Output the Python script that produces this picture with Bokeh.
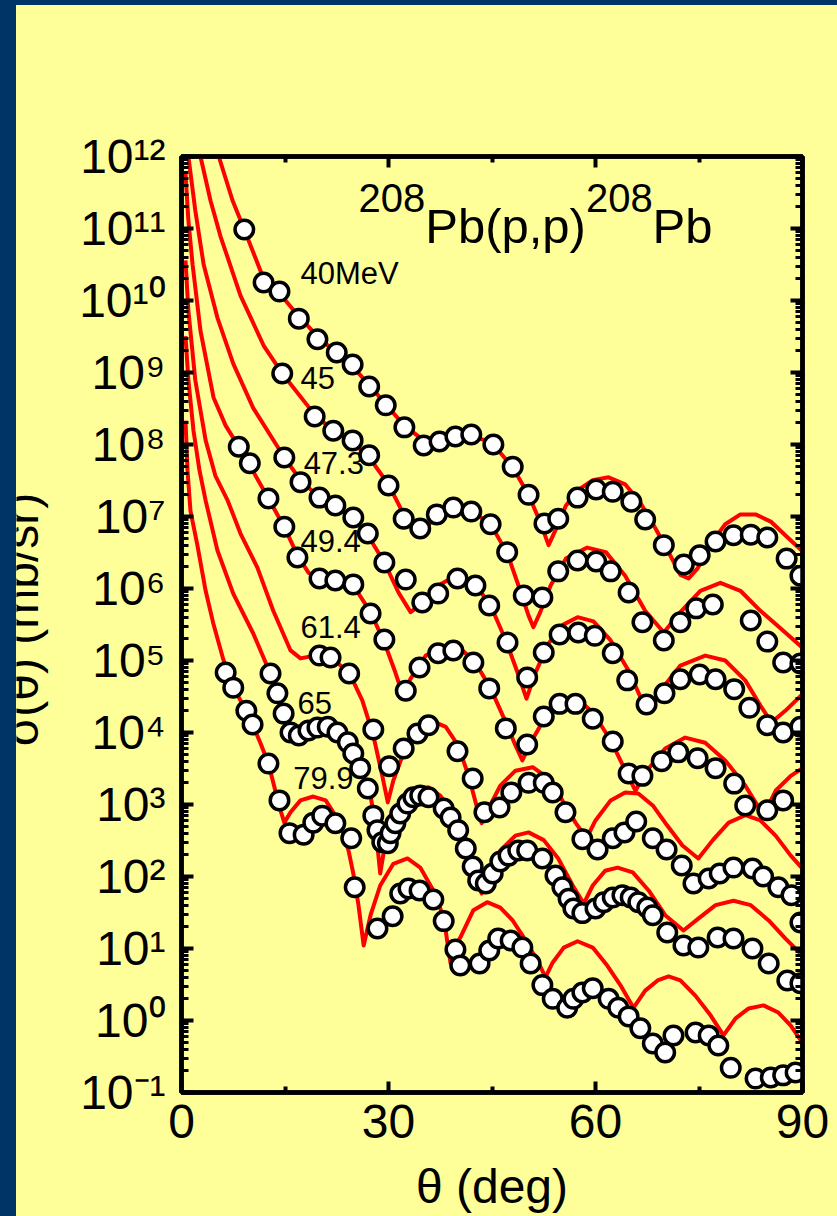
import math
from bokeh.plotting import figure
from bokeh.layouts import column, row
from bokeh.models import (Range1d, LinearAxis, LogAxis, FixedTicker, CustomJSTickFormatter, Div)
from bokeh.core.properties import value
from bokeh.embed import file_html
from bokeh.resources import INLINE

# ---------------- data ----------------
energy_labels = ["40MeV", "45", "47.3", "49.4", "61.4", "65", "79.9"]
label_theta = [17.25, 17.25, 17.7, 17.25, 17.25, 16.8, 16.2]
label_sigma = [2.37e10, 8.5e8, 5.5e7, 4.5e6, 2.9e5, 2.6e4, 2.37e3]

theta_40 = [9.1, 11.9, 14.2, 17.0, 19.7, 22.5, 24.8, 27.2, 29.6, 32.3, 35.1, 37.4, 39.7, 42.0, 45.2, 48.0, 50.3,
            52.6, 54.6, 57.4, 60.1, 62.5, 65.2, 67.2, 69.9, 72.8, 75.1, 77.4, 80.0, 82.5, 84.9, 87.7, 89.7]
sigma_40 = [9.7e10, 1.78e10, 1.33e10, 5.6e9, 2.9e9, 1.9e9, 1.29e9, 6.4e8, 3.5e8, 1.73e8, 9.7e7, 1.1e8, 1.29e8,
            1.38e8, 1.0e8, 4.9e7, 2.0e7, 8.0e6, 9.3e6, 1.83e7, 2.37e7, 2.2e7, 1.6e7, 9.1e6, 4.0e6, 2.15e6, 2.9e6,
            4.5e6, 5.5e6, 5.6e6, 5.1e6, 2.6e6, 1.5e6]
calc_theta_40 = [4.8, 5.4, 7.4, 9.1, 11.9, 14.2, 17.0, 19.7, 22.5, 24.8, 27.2, 29.6, 32.3, 35.1, 37.4, 39.7, 42.0,
                 44.1, 46.2, 48.0, 50.3, 52.0, 53.2, 54.3, 55.7, 57.4, 59.6, 61.9, 64.3, 66.5, 68.7, 70.9, 72.3,
                 73.5, 74.8, 76.7, 78.8, 81.0, 83.2, 85.4, 87.5, 90.0]
calc_sigma_40 = [2.3e12, 1.0e12, 2.45e11, 9.7e10, 2.0e10, 1.26e10, 6.0e9, 3.2e9, 1.83e9, 1.2e9, 6.8e8, 3.6e8,
                 1.83e8, 1.14e8, 1.07e8, 1.26e8, 1.29e8, 1.14e8, 7.7e7, 4.8e7, 2.0e7, 8.3e6, 4.0e6, 6.8e6, 1.41e7,
                 2.3e7, 3.2e7, 3.5e7, 2.8e7, 1.55e7, 6.8e6, 2.8e6, 1.55e6, 1.38e6, 1.9e6, 4.2e6, 7.8e6, 1.07e7,
                 1.07e7, 8.5e6, 5.5e6, 3.3e6]

theta_45 = [14.6, 19.3, 22.0, 24.8, 27.2, 30.0, 32.2, 34.6, 37.0, 39.4, 42.0, 44.8, 47.2, 49.6, 52.3, 54.6, 57.4,
            60.1, 62.2, 64.8, 66.8, 69.9, 72.3, 74.6, 77.0, 82.5, 84.9, 87.2, 89.7]
sigma_45 = [9.7e8, 2.45e8, 1.55e8, 1.14e8, 7.1e7, 2.7e7, 9.3e6, 6.8e6, 1.07e7, 1.33e7, 1.17e7, 7.8e6, 3.2e6,
            8.0e5, 7.5e5, 1.73e6, 2.45e6, 2.37e6, 1.73e6, 8.8e5, 3.4e5, 1.9e5, 3.4e5, 5.3e5, 6.0e5, 3.6e5,
            1.83e5, 9.4e4, 9.1e4]
calc_theta_45 = [2.3, 2.75, 4.2, 5.65, 8.55, 11.9, 14.6, 19.3, 22.0, 24.8, 27.2, 30.0, 32.2, 33.9, 35.4, 37.0,
                 39.4, 42.0, 44.8, 47.2, 49.1, 50.3, 51.0, 52.0, 53.5, 55.7, 58.8, 61.5, 64.3, 67.2, 69.9, 72.3,
                 75.2, 78.1, 81.0, 83.9, 86.8, 90.0]
calc_sigma_45 = [2.3e12, 1.0e12, 2.45e11, 7.8e10, 1.17e10, 2.37e9, 9.7e8, 2.6e8, 1.55e8, 1.07e8, 6.6e7, 2.8e7,
                 1.07e7, 7.1e6, 7.1e6, 1.0e7, 1.33e7, 1.2e7, 7.8e6, 3.1e6, 9.3e5, 4.2e5, 2.9e5, 4.7e5, 1.1e6,
                 2.6e6, 3.7e6, 3.2e6, 1.5e6, 4.9e5, 2.45e5, 4.7e5, 9.3e5, 1.2e6, 9.3e5, 4.9e5, 2.8e5, 1.5e5]

theta_47 = [14.9, 17.25, 20.0, 22.3, 24.9, 27.0, 29.4, 32.5, 34.9, 37.2, 40.0, 42.6, 44.6, 47.25, 50.1, 52.5,
            54.8, 57.5, 59.9, 62.5, 64.6, 67.4, 70.0, 72.3, 75.1, 77.4, 80.1, 82.3, 84.9, 87.2, 89.7]
sigma_47 = [6.6e7, 3.0e7, 1.83e7, 1.42e7, 9.7e6, 5.8e6, 2.3e6, 1.33e6, 6.4e5, 8.5e5, 1.38e6, 1.1e6, 5.8e5,
            1.78e5, 5.8e4, 1.29e5, 2.3e5, 2.45e5, 2.2e5, 1.26e5, 5.3e4, 2.45e4, 3.5e4, 5.5e4, 6.4e4, 5.5e4,
            4.0e4, 2.2e4, 1.26e4, 1.0e4, 1.2e4]
calc_theta_47 = [0.87, 1.0, 2.0, 3.2, 5.2, 7.5, 10.4, 14.9, 17.25, 20.0, 22.3, 24.9, 27.0, 29.4, 31.45, 33.2,
                 34.9, 37.2, 39.3, 41.2, 43.0, 44.8, 47.0, 48.7, 50.0, 51.3, 53.2, 55.2, 57.4, 59.7, 62.2, 64.8,
                 67.5, 69.4, 72.3, 75.9, 78.8, 81.7, 83.9, 85.5, 87.5, 90.0]
calc_sigma_47 = [2.3e12, 1.0e12, 1.78e11, 3.2e10, 5.8e9, 1.33e9, 3.2e8, 6.6e7, 3.2e7, 1.83e7, 1.38e7, 9.3e6,
                 5.5e6, 2.3e6, 8.8e5, 4.7e5, 6.2e5, 1.1e6, 1.42e6, 1.38e6, 1.0e6, 5.8e5, 1.9e5, 6.8e4, 2.95e4,
                 6.8e4, 1.73e5, 3.1e5, 4.0e5, 3.5e5, 1.9e5, 7.2e4, 1.9e4, 3.8e4, 8.5e4, 1.17e5, 1.0e5, 5.3e4,
                 2.37e4, 1.38e4, 2.0e4, 3.4e4]

theta_49 = [8.3, 9.9, 12.6, 14.9, 16.8, 20.0, 22.3, 24.9, 27.4, 29.4, 32.5, 34.5, 37.2, 39.4, 42.3, 44.6, 47.0,
            50.1, 52.5, 54.8, 57.1, 59.6, 62.5, 64.8, 66.8, 69.6, 72.0, 74.8, 77.4, 80.1, 81.7, 84.9, 87.2]
sigma_49 = [9.3e7, 5.5e7, 1.78e7, 7.2e6, 2.7e6, 1.38e6, 1.29e6, 1.14e6, 4.5e5, 1.95e5, 3.8e4, 8.0e4, 1.26e5,
            1.38e5, 9.4e4, 4.1e4, 1.14e4, 6.8e3, 1.67e4, 2.5e4, 2.5e4, 1.55e4, 7.5e3, 2.7e3, 2.5e3, 4.0e3,
            5.3e3, 4.4e3, 3.2e3, 1.95e3, 9.7e2, 8.3e2, 1.14e3]
calc_theta_49 = [0.58, 1.0, 1.6, 2.75, 4.64, 6.4, 8.3, 9.9, 12.6, 14.9, 16.8, 18.4, 20.0, 22.3, 24.9, 27.4,
                 29.4, 31.0, 32.0, 33.2, 35.4, 38.3, 40.4, 42.6, 44.8, 47.0, 48.4, 49.4, 50.6, 52.75, 55.2,
                 57.4, 59.6, 62.2, 64.3, 65.8, 67.25, 70.1, 73.0, 75.9, 78.8, 81.7, 84.35, 86.1, 88.3, 90.0]
calc_sigma_49 = [5.8e11, 1.29e11, 3.2e10, 3.8e9, 4.5e8, 1.83e8, 9.3e7, 5.1e7, 1.78e7, 7.1e6, 2.9e6, 1.66e6,
                 1.38e6, 1.29e6, 1.1e6, 4.7e5, 1.78e5, 6.8e4, 3.5e4, 5.6e4, 1.17e5, 1.62e5, 1.48e5, 9.3e4,
                 4.1e4, 1.38e4, 6.6e3, 4.1e3, 7.2e3, 1.66e4, 2.8e4, 2.95e4, 1.9e4, 7.8e3, 3.0e3, 1.55e3, 2.8e3,
                 6.0e3, 8.5e3, 7.2e3, 4.1e3, 1.83e3, 7.1e2, 1.55e3, 2.5e3, 3.2e3]

theta_61 = [20.0, 21.6, 24.3, 27.8, 30.1, 32.2, 34.2, 35.8, 40.0, 42.2, 43.9, 46.1, 47.8, 50.3, 52.5, 53.8,
            55.65, 58.1, 60.3, 62.5, 64.2, 65.9, 68.3, 70.3, 72.5, 74.2, 76.4, 78.0, 80.0, 82.75, 84.3, 86.5,
            88.4, 89.7]
sigma_61 = [1.17e5, 1.1e5, 6.6e4, 1.1e4, 3.4e3, 6.0e3, 9.7e3, 1.26e4, 5.5e3, 2.3e3, 7.8e2, 9.1e2, 1.47e3,
            2.0e3, 2.0e3, 1.47e3, 7.8e2, 3.3e2, 2.37e2, 3.4e2, 4.1e2, 5.8e2, 3.4e2, 2.37e2, 1.42e2, 8.0e1,
            9.4e1, 1.1e2, 1.33e2, 1.29e2, 1.0e2, 7.1e1, 5.5e1, 2.3e1]
calc_theta_61 = [0.58, 1.0, 2.0, 3.5, 4.9, 6.7, 8.55, 11.0, 13.3, 15.8, 17.25, 18.7, 20.0, 21.6, 24.3, 26.2,
                 27.8, 29.1, 29.9, 30.7, 32.2, 34.2, 36.1, 38.3, 40.1, 41.6, 42.75, 43.5, 44.5, 46.2, 48.4,
                 50.9, 53.2, 55.2, 57.1, 58.7, 60.0, 62.2, 64.3, 66.2, 68.3, 70.4, 72.6, 74.9, 77.0, 79.3, 81.7,
                 83.9, 86.1, 88.3, 90.0]
calc_sigma_61 = [3.6e10, 7.2e9, 7.8e8, 1.14e8, 3.7e7, 1.66e7, 5.8e6, 1.95e6, 4.9e5, 1.38e5, 1.07e5, 1.14e5,
                 1.17e5, 1.1e5, 6.8e4, 2.8e4, 9.1e3, 2.5e3, 1.07e3, 2.15e3, 5.3e3, 1.07e4, 1.48e4, 1.2e4, 6.6e3,
                 2.5e3, 9.7e2, 5.5e2, 8.8e2, 1.83e3, 2.95e3, 3.3e3, 2.3e3, 1.14e3, 5.6e2, 3.4e2, 6.0e2, 1.14e3,
                 1.47e3, 1.42e3, 9.7e2, 5.1e2, 2.7e2, 1.78e2, 3.2e2, 5.6e2, 7.1e2, 6.0e2, 3.7e2, 1.95e2, 1.29e2]

theta_65 = [12.9, 13.9, 14.8, 15.8, 17.0, 18.4, 19.7, 21.2, 22.6, 24.1, 24.9, 25.9, 27.0, 27.8, 28.4, 29.1,
            29.9, 30.3, 31.0, 31.7, 32.75, 33.6, 34.6, 35.8, 38.0, 39.0, 40.1, 41.2, 42.2, 43.0, 44.1, 45.1,
            46.2, 47.4, 48.8, 50.1, 52.3, 54.2, 55.2, 56.1, 56.8, 58.1, 60.0, 61.2, 62.5, 63.9, 65.1, 66.2,
            67.5, 68.3, 70.4, 72.75, 74.9, 77.7, 80.0, 82.75, 85.1, 87.8, 89.7]
sigma_65 = [6.6e4, 3.5e4, 1.83e4, 1.0e4, 9.1e3, 1.07e4, 1.17e4, 1.2e4, 1.0e4, 7.3e3, 5.1e3, 3.2e3, 1.67e3,
            7.0e2, 4.4e2, 3.0e2, 2.9e2, 4.0e2, 5.5e2, 7.5e2, 1.03e3, 1.26e3, 1.33e3, 1.26e3, 8.8e2, 6.6e2,
            4.4e2, 2.45e2, 1.38e2, 8.8e1, 8.0e1, 1.1e2, 1.62e2, 1.95e2, 2.3e2, 2.3e2, 1.78e2, 1.03e2, 7.1e1,
            4.9e1, 3.6e1, 3.1e1, 3.6e1, 4.4e1, 5.1e1, 5.5e1, 5.1e1, 4.4e1, 3.7e1, 2.9e1, 1.67e1, 1.1e1,
            1.03e1, 1.42e1, 1.38e1, 1.0e1, 6.2, 3.6, 3.3]
calc_theta_65 = [0.58, 1.0, 1.74, 2.6, 3.5, 5.2, 7.5, 10.4, 12.5, 13.9, 14.8, 15.8, 17.0, 18.4, 19.7, 21.2,
                 22.6, 24.1, 25.2, 26.2, 27.4, 28.1, 28.8, 29.6, 30.6, 32.0, 33.9, 35.8, 37.5, 39.3, 41.2,
                 42.5, 43.5, 44.5, 46.2, 48.4, 50.3, 52.5, 54.6, 56.7, 58.3, 59.6, 61.4, 63.2, 65.4, 67.7,
                 70.1, 72.75, 74.9, 77.4, 80.0, 82.5, 85.1, 87.5, 90.0]
calc_sigma_65 = [3.2e9, 7.8e8, 1.55e8, 4.4e7, 1.66e7, 3.4e6, 8.5e5, 2.37e5, 8.0e4, 3.5e4, 1.83e4, 1.14e4,
                 9.7e3, 1.1e4, 1.26e4, 1.26e4, 1.03e4, 7.3e3, 4.5e3, 2.8e3, 1.33e3, 5.1e2, 1.1e2, 3.2e2, 7.1e2,
                 1.2e3, 1.67e3, 1.73e3, 1.33e3, 7.8e2, 3.4e2, 1.42e2, 5.8e1, 1.2e2, 2.3e2, 3.7e2, 4.1e2, 3.2e2,
                 1.78e2, 7.5e1, 4.2e1, 7.5e1, 1.2e2, 1.33e2, 1.14e2, 6.4e1, 2.9e1, 1.78e1, 2.6e1, 4.0e1, 4.6e1,
                 4.0e1, 2.45e1, 1.38e1, 8.0]

theta_79 = [6.4, 7.5, 9.4, 10.3, 12.6, 14.2, 15.65, 17.7, 19.1, 20.4, 22.3, 24.6, 25.1, 28.4, 30.6, 31.7,
            32.9, 34.5, 36.5, 38.0, 39.7, 40.4, 43.2, 44.6, 45.9, 47.7, 49.4, 50.6, 52.3, 53.8, 55.9, 56.8,
            58.1, 59.6, 61.9, 63.3, 64.8, 66.5, 68.3, 70.1, 71.3, 74.5, 76.4, 77.8, 79.6, 83.2, 85.4, 87.2, 89.0]
sigma_79 = [6.8e4, 4.2e4, 2.0e4, 1.29e4, 3.7e3, 1.14e3, 4.0e2, 3.8e2, 5.6e2, 7.0e2, 5.5e2, 3.4e2, 7.1e1,
            1.9e1, 2.8e1, 5.8e1, 6.8e1, 6.4e1, 4.8e1, 2.4e1, 9.7, 5.8, 6.2, 9.4, 1.38e1, 1.29e1, 1.03e1, 6.2,
            3.1, 2.0, 1.5, 2.0, 2.45, 2.8, 2.0, 1.5, 1.14, 0.78, 0.48, 0.36, 0.62, 0.68, 0.62, 0.45, 0.22,
            0.156, 0.162, 0.173, 0.19]
calc_theta_79 = [0.58, 0.87, 1.3, 2.3, 3.5, 4.6, 6.1, 7.5, 9.4, 10.3, 11.45, 12.6, 13.6, 14.35, 14.9, 15.8,
                 17.25, 19.1, 20.9, 23.0, 24.2, 24.9, 25.65, 26.4, 27.4, 28.8, 30.7, 32.75, 34.6, 36.5, 38.0,
                 39.0, 39.7, 40.4, 42.3, 44.3, 46.2, 48.0, 49.9, 51.7, 52.75, 53.8, 55.4, 57.4, 59.6, 61.7,
                 63.6, 65.5, 67.2, 69.0, 70.6, 72.3, 74.5, 76.7, 78.55, 80.3, 82.2, 84.35, 86.5, 88.3, 90.0]
calc_sigma_79 = [2.15e8, 4.4e7, 1.2e7, 4.0e6, 9.3e5, 3.3e5, 1.0e5, 4.2e4, 2.0e4, 1.29e4, 7.1e3, 3.7e3, 1.55e3,
                 8.3e2, 5.6e2, 7.8e2, 1.14e3, 1.29e3, 1.14e3, 5.5e2, 2.3e2, 1.1e2, 4.0e1, 1.1e1, 2.9e1, 7.5e1,
                 1.5e2, 1.78e2, 1.33e2, 6.4e1, 2.7e1, 6.2, 1.1e1, 1.42e1, 3.4e1, 4.4e1, 3.7e1, 2.45e1, 1.29e1,
                 6.4, 4.0, 6.4, 1.03e1, 1.26e1, 1.03e1, 5.8, 3.1, 1.5, 2.6, 3.6, 4.1, 3.6, 2.2, 1.17, 0.62,
                 1.07, 1.47, 1.62, 1.29, 0.85, 0.49]

xtick_values = [0, 30, 60, 90]
xtick_minor = [15, 45, 75]
ytick_exponents = [-1, 0, 1, 2, 3, 4, 5, 6, 7, 8, 9, 10, 11, 12]
ytick_labels = ["10\u207b\u00b9", "10\u2070", "10\u00b9", "10\u00b2", "10\u00b3", "10\u2074", "10\u2075",
                "10\u2076", "10\u2077", "10\u2078", "10\u2079", "10\u00b9\u2070", "10\u00b9\u00b9",
                "10\u00b9\u00b2"]
title_sup = ["208", "208"]
title_main = ["Pb(p,p)", "Pb"]
x_title = "\u03b8 (deg)"
y_title = "\u03c3(\u03b8) (mb/sr)"

# ---------------- style / layout ----------------
PAGE_W, PAGE_H = 837, 1216
TOP_STRIP, NAVY_W, TITLE_W = 5, 16, 44
PW, PH = PAGE_W - NAVY_W - TITLE_W, PAGE_H - TOP_STRIP
FL, FR, FT, FB = 181, 802, 156, 1092          # frame edges in page pixels
YELLOW = "#FFFF99"
NAVY = "#003366"
FONT = "Liberation Sans"


def px_x(px):
    return (px - FL) / (FR - FL) * 90.0


def py_y(py):
    return 10 ** (-1 + (FB - py) / (FB - FT) * 13.0)


p = figure(width=PW, height=PH, x_range=Range1d(0, 90), y_range=Range1d(0.1, 1e12),
           y_axis_type="log", output_backend="svg", toolbar_location=None,
           min_border_left=FL - NAVY_W - TITLE_W, min_border_right=PAGE_W - FR,
           min_border_top=FT - TOP_STRIP, min_border_bottom=PAGE_H - FB,
           background_fill_color=YELLOW, border_fill_color=YELLOW,
           outline_line_color="black", outline_line_width=4.5)
p.grid.visible = False

xticker = FixedTicker(ticks=xtick_values, minor_ticks=xtick_minor)
yticker = FixedTicker(ticks=[10.0 ** n for n in ytick_exponents],
                      minor_ticks=[k * 10.0 ** n for n in ytick_exponents[:-1] for k in range(2, 10)])
blank = CustomJSTickFormatter(code="return ''")
ylabels_fmt = CustomJSTickFormatter(args=dict(exps=ytick_exponents, labels=ytick_labels), code="""
    const n = Math.round(Math.log10(tick));
    const i = exps.indexOf(n);
    return i >= 0 ? labels[i] : "";
""")


def style_x(ax, labels):
    ax.ticker = xticker
    ax.axis_line_width = 4.5
    ax.major_tick_in = 11
    ax.major_tick_out = 0
    ax.minor_tick_in = 6
    ax.minor_tick_out = 0
    ax.major_tick_line_width = 4
    ax.minor_tick_line_width = 4
    if labels:
        ax.major_label_text_font = FONT
        ax.major_label_text_font_size = "48px"
        ax.major_label_standoff = 12
        ax.major_label_text_color = "black"
    else:
        ax.formatter = blank


def style_y(ax, labels):
    ax.ticker = yticker
    ax.axis_line_width = 4.5
    ax.major_tick_in = 12
    ax.major_tick_out = 0
    ax.minor_tick_in = 7
    ax.minor_tick_out = 0
    ax.major_tick_line_width = 4
    ax.minor_tick_line_width = 3
    if labels:
        ax.formatter = ylabels_fmt
        ax.major_label_text_font = FONT
        ax.major_label_text_font_size = "48px"
        ax.major_label_standoff = 16
        ax.major_label_text_color = "black"
    else:
        ax.formatter = blank


style_x(p.xaxis[0], True)
p.xaxis[0].axis_label = x_title
p.xaxis[0].axis_label_text_font = FONT
p.xaxis[0].axis_label_text_font_size = "48px"
p.xaxis[0].axis_label_text_font_style = "normal"
p.xaxis[0].axis_label_text_color = "black"
p.xaxis[0].axis_label_standoff = 19
style_y(p.yaxis[0], True)

top_axis = LinearAxis()
style_x(top_axis, False)
p.add_layout(top_axis, "above")
right_axis = LogAxis()
style_y(right_axis, False)
p.add_layout(right_axis, "right")

# curves first, then the measured points on top
curves = [(calc_theta_40, calc_sigma_40), (calc_theta_45, calc_sigma_45), (calc_theta_47, calc_sigma_47),
          (calc_theta_49, calc_sigma_49), (calc_theta_61, calc_sigma_61), (calc_theta_65, calc_sigma_65),
          (calc_theta_79, calc_sigma_79)]
points = [(theta_40, sigma_40), (theta_45, sigma_45), (theta_47, sigma_47), (theta_49, sigma_49),
          (theta_61, sigma_61), (theta_65, sigma_65), (theta_79, sigma_79)]
for cx, cy in curves:
    p.line(cx, cy, line_color="#FF0000", line_width=4, line_join="round")
for tx, ty in points:
    p.scatter(tx, ty, marker="circle", size=18.5, fill_color="white", line_color="black", line_width=3.5)

# energy labels
p.text(x=label_theta, y=label_sigma, text=energy_labels, text_font=value(FONT),
       text_font_size=value("31px"), text_color="black", text_align="left", text_baseline="middle")

# reaction title 208Pb(p,p)208Pb
MAIN, SUPS = 49, 40
w_sup = 3 * 0.556 * SUPS
w_main = [3.279 * MAIN, 1.223 * MAIN]
x0 = 358
sup_px = [x0, x0 + w_sup + w_main[0]]
main_px = [x0 + w_sup, x0 + 2 * w_sup + w_main[0]]
p.text(x=[px_x(v) for v in sup_px], y=[py_y(197)] * 2, text=title_sup, text_font=value(FONT),
       text_font_size=value(f"{SUPS}px"), text_color="black", text_align="left", text_baseline="middle")
p.text(x=[px_x(v) for v in main_px], y=[py_y(225)] * 2, text=title_main, text_font=value(FONT),
       text_font_size=value(f"{MAIN}px"), text_color="black", text_align="left", text_baseline="middle")

# y-axis title panel: the text is cut by the dark band, as in the original slide
f_title = figure(width=TITLE_W, height=PH, x_range=Range1d(NAVY_W, NAVY_W + TITLE_W), y_range=Range1d(FB, FT),
                 output_backend="svg", toolbar_location=None, x_axis_location=None, y_axis_location=None,
                 background_fill_color=YELLOW, border_fill_color=YELLOW, outline_line_color=None,
                 min_border_left=0, min_border_right=0, min_border_top=FT - TOP_STRIP,
                 min_border_bottom=PAGE_H - FB)
f_title.grid.visible = False
f_title.text(x=[21.4], y=[619], text=[y_title], angle=math.pi / 2, text_font=value(FONT),
             text_font_size=value("48px"), text_color="black", text_align="center", text_baseline="middle")

# dark slide frame (left band and top strip)
navy_band = Div(text="", width=NAVY_W, height=PH, margin=0, styles={"background-color": NAVY})
navy_top = Div(text="", width=PAGE_W, height=TOP_STRIP, margin=0, styles={"background-color": NAVY})

body = row(navy_band, f_title, p, spacing=0, styles={"background-color": YELLOW})
layout = column(navy_top, body, spacing=0, styles={"background-color": NAVY})
open("out.html", "w").write(file_html(layout, INLINE, title="208Pb(p,p)208Pb"))
